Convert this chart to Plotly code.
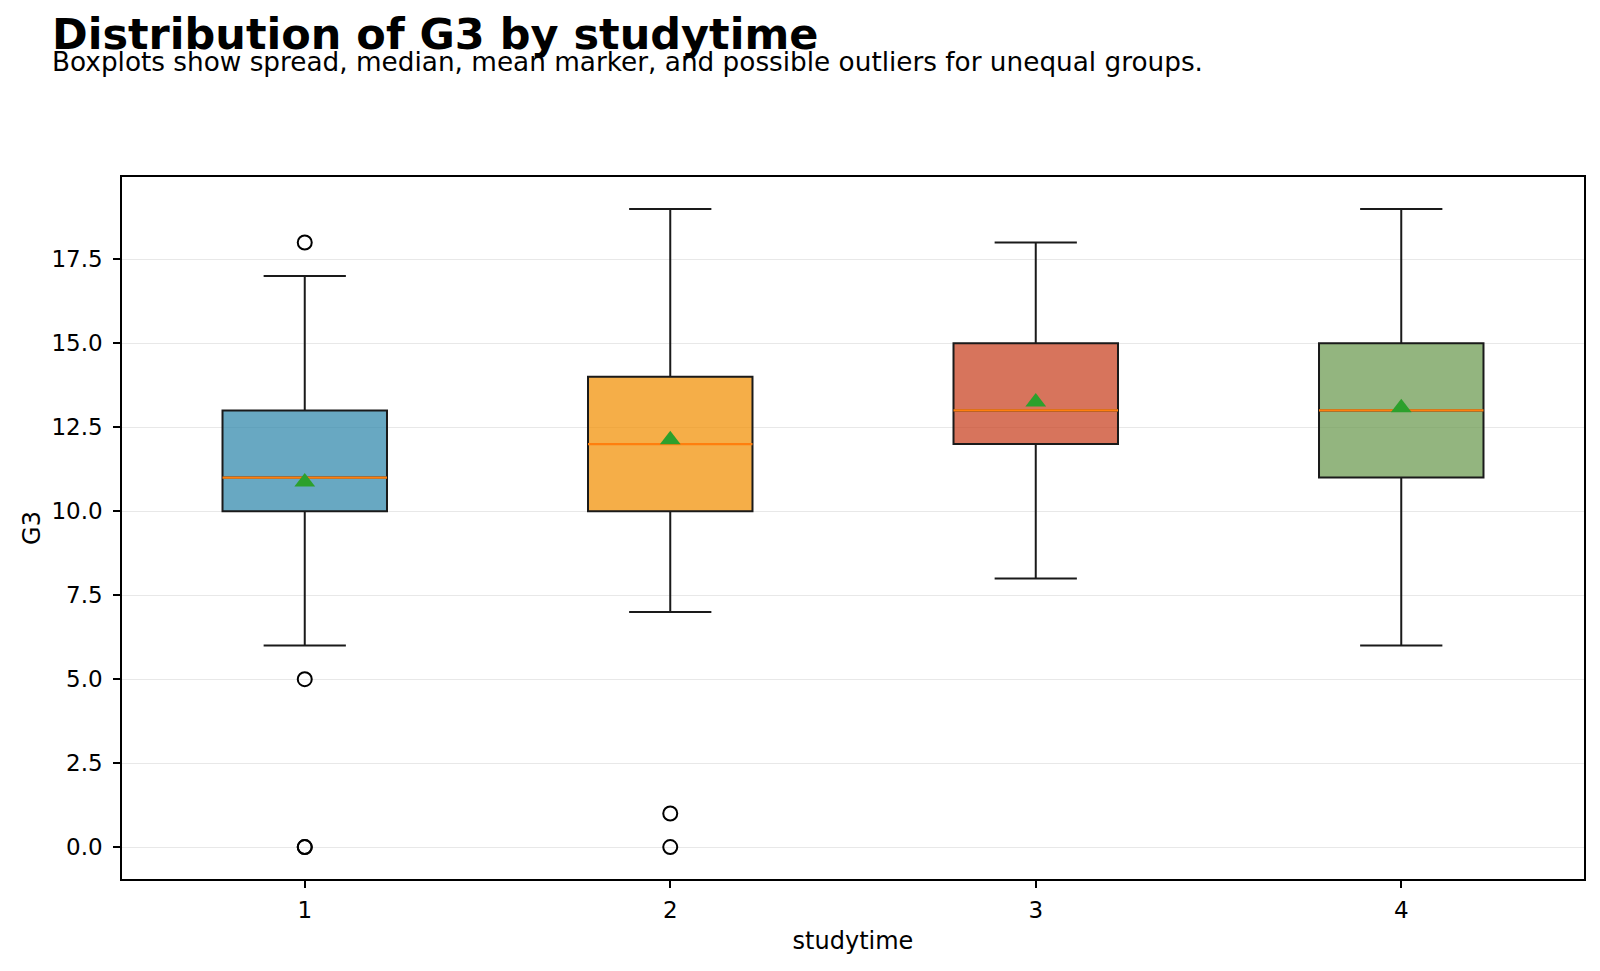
import plotly.graph_objects as go

# ---- data ----
groups = [1, 2, 3, 4]
q1 = [10, 10, 12, 11]
median = [11, 12, 13, 13]
q3 = [13, 14, 15, 15]
lower_whisker = [6, 7, 8, 6]
upper_whisker = [17, 19, 18, 19]
means = [10.87, 12.13, 13.25, 13.08]
outlier_x = [1, 1, 1, 1, 2, 2]
outlier_y = [18, 5, 0, 0, 1, 0]
fill_colors = ["rgba(46,134,171,0.72)", "rgba(241,143,1,0.72)",
               "rgba(199,62,29,0.72)", "rgba(106,153,78,0.72)"]
y_ticks = [0, 2.5, 5, 7.5, 10, 12.5, 15, 17.5]

FONT = "DejaVu Sans"
W, H = 1600, 971
L, R, T, B = 122, 16, 177, 92
pw, ph = W - L - R, H - T - B

fig = go.Figure()

box_w = 0.45
for i, g in enumerate(groups):
    fig.add_trace(go.Box(
        x=[g], q1=[q1[i]], median=[median[i]], q3=[q3[i]],
        lowerfence=[lower_whisker[i]], upperfence=[upper_whisker[i]],
        width=box_w, whiskerwidth=0.5, fillcolor=fill_colors[i],
        line=dict(color="#1a1a1a", width=2), boxpoints=False,
        showlegend=False, hoverinfo="skip"))
    # median line
    fig.add_trace(go.Scatter(
        x=[g - box_w / 2, g + box_w / 2], y=[median[i], median[i]],
        mode="lines", line=dict(color="#ff7f0e", width=2.2),
        showlegend=False, hoverinfo="skip"))

fig.add_trace(go.Scatter(
    x=outlier_x, y=outlier_y, mode="markers",
    marker=dict(symbol="circle-open", size=14, color="black",
                line=dict(width=2, color="black")),
    showlegend=False))

fig.add_trace(go.Scatter(
    x=groups, y=means, mode="markers",
    marker=dict(symbol="triangle-up", size=18, color="#2ca02c"),
    showlegend=False))

fig.update_layout(
    width=W, height=H,
    margin=dict(l=L, r=R, t=T, b=B),
    paper_bgcolor="white", plot_bgcolor="white",
    font=dict(family=FONT, size=23, color="black"),
    showlegend=False,
)

fig.update_xaxes(
    range=[0.5, 4.5], tickvals=groups, ticktext=[str(g) for g in groups],
    showgrid=False, zeroline=False,
    showline=True, linecolor="black", linewidth=1.6, mirror=True,
    ticks="outside", ticklen=7, tickwidth=1.6, tickcolor="black",
    tickfont=dict(family=FONT, size=23), ticklabelstandoff=3,
    title=dict(text="studytime", font=dict(family=FONT, size=24), standoff=10),
)
fig.update_yaxes(
    range=[-0.95, 19.95], tickvals=y_ticks, ticktext=[f"{v:.1f}" for v in y_ticks],
    showgrid=True, gridcolor="#e8e8e8", gridwidth=1.2, zeroline=False,
    showline=True, linecolor="black", linewidth=1.6, mirror=True,
    ticks="outside", ticklen=7, tickwidth=1.6, tickcolor="black",
    tickfont=dict(family=FONT, size=23), ticklabelstandoff=6,
    title=dict(text="G3", font=dict(family=FONT, size=24), standoff=4),
)

fig.add_annotation(
    text="<b>Distribution of G3 by studytime</b>",
    xref="paper", yref="paper", x=(50 - L) / pw, y=(H - B - 34) / ph,
    xanchor="left", yanchor="middle", showarrow=False,
    font=dict(family=FONT, size=43, color="black"))
fig.add_annotation(
    text="Boxplots show spread, median, mean marker, and possible outliers for unequal groups.",
    xref="paper", yref="paper", x=(50 - L) / pw, y=(H - B - 62) / ph,
    xanchor="left", yanchor="middle", showarrow=False,
    font=dict(family=FONT, size=26.3, color="black"))

fig.write_html("out.html")
